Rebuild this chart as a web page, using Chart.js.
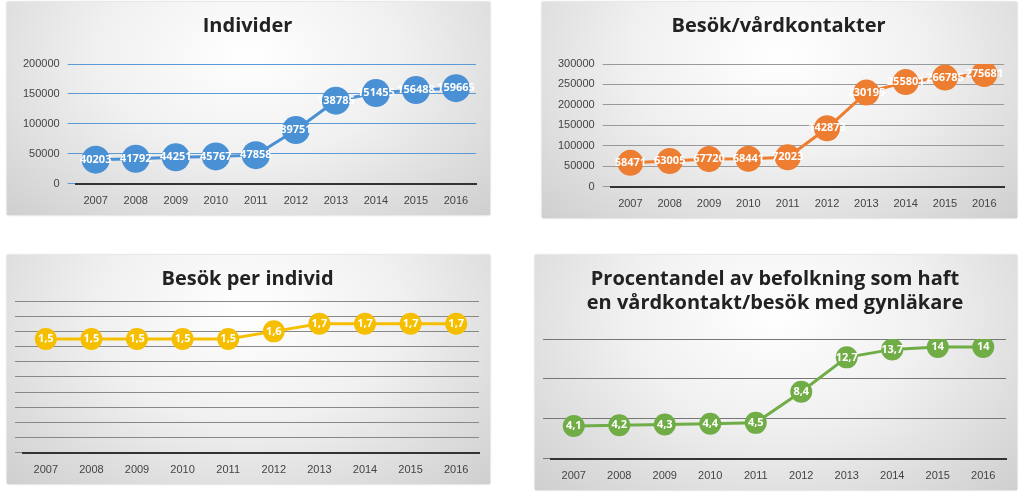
<!DOCTYPE html>
<html>
<head>
<meta charset="utf-8">
<script src="https://cdn.jsdelivr.net/npm/chart.js@4"></script>
<style>
  body { margin: 0; width: 1023px; height: 499px; background: #fff; position: relative; overflow: hidden; font-family: "Open Sans", sans-serif; }
  .panel { position: absolute; background: radial-gradient(ellipse at 50% 25%, #ffffff 0%, #f0f0f0 45%, #cfcfcf 100%); box-shadow: 0 0 2px #bbb; }
  .panel canvas { position: absolute; left: 0; top: 0; }
</style>
</head>
<body>
<div class="panel" style="left:7px;top:2px;width:483px;height:213px"><canvas id="c1"></canvas></div>
<div class="panel" style="left:542px;top:2px;width:475px;height:216px"><canvas id="c2"></canvas></div>
<div class="panel" style="left:7px;top:255px;width:483px;height:229px"><canvas id="c3"></canvas></div>
<div class="panel" style="left:535px;top:255px;width:482px;height:235px"><canvas id="c4"></canvas></div>
<script>
const years = ['2007', '2008', '2009', '2010', '2011', '2012', '2013', '2014', '2015', '2016'];
const individer = [40203, 41792, 44251, 45767, 47858, 89751, 138785, 151455, 156488, 159665];
const besok = [58471, 63005, 67720, 68441, 72023, 142873, 230195, 255801, 266785, 275681];
const besokPerIndivid = [1.5, 1.5, 1.5, 1.5, 1.5, 1.6, 1.7, 1.7, 1.7, 1.7];
const procentandel = [4.1, 4.2, 4.3, 4.4, 4.5, 8.4, 12.7, 13.7, 14, 14];

const labelPlugin = {
    id: 'pointLabels',
    afterDatasetsDraw(chart) {
        const ctx = chart.ctx;
        const ds = chart.data.datasets[0];
        const meta = chart.getDatasetMeta(0);
        ctx.save();
        ctx.font = 'bold 11px "Open Sans", sans-serif';
        ctx.fillStyle = '#fff';
        ctx.textAlign = 'center';
        ctx.textBaseline = 'middle';
        meta.data.forEach((pt, i) => {
            ctx.fillText(String(ds.data[i]).replace('.', ','), pt.x, pt.y);
        });
        ctx.restore();
    }
};

function makeChart(id, w, h, data, color, yOpts, radius, titleLines, gridColor, titleGap) {
    const cv = document.getElementById(id);
    cv.width = w; cv.height = h;
    return new Chart(cv.getContext('2d'), {
        type: 'line',
        data: {
            labels: years,
            datasets: [{
                data: data,
                borderColor: color,
                backgroundColor: color,
                borderWidth: 3,
                pointRadius: radius,
                pointHoverRadius: radius,
                pointBorderWidth: 0
            }]
        },
        options: {
            responsive: false,
            animation: false,
            layout: { padding: { left: 8, right: 10, top: 0, bottom: 4 } },
            plugins: {
                legend: { display: false },
                tooltip: { enabled: false },
                title: {
                    display: true,
                    text: titleLines,
                    color: '#222',
                    font: { size: 20, weight: 'bold', family: '"Open Sans", sans-serif' },
                    padding: { top: 12, bottom: titleGap }
                }
            },
            scales: {
                x: {
                    offset: true,
                    grid: { display: false },
                    border: { color: '#333', width: 2 },
                    ticks: { color: '#444', font: { size: 11 } }
                },
                y: Object.assign({
                    beginAtZero: true,
                    border: { display: false },
                    grid: { color: gridColor, lineWidth: 1 }
                }, yOpts)
            }
        },
        plugins: [labelPlugin]
    });
}

const plainTicks = step => ({ stepSize: step, color: '#444', font: { size: 11 }, padding: 8, callback: v => String(v) });

makeChart('c1', 483, 213, individer, '#4a90d4',
    { min: 0, max: 200000, ticks: plainTicks(50000) },
    14, 'Individer', '#5b9bd5', 26);
makeChart('c2', 475, 216, besok, '#ed7d31',
    { min: 0, max: 300000, ticks: plainTicks(50000) },
    13, 'Besök/vårdkontakter', '#999', 26);
makeChart('c3', 483, 229, besokPerIndivid, '#f5bf00',
    { min: 0, max: 2, ticks: { display: false, stepSize: 0.2 } },
    11, 'Besök per individ', '#888', 10);
makeChart('c4', 482, 235, procentandel, '#70ad47',
    { min: 0, max: 15, ticks: { display: false, stepSize: 5 } },
    11, ['Procentandel av befolkning som haft', 'en vårdkontakt/besök med gynläkare'], '#777', 24);
</script>
</body>
</html>
